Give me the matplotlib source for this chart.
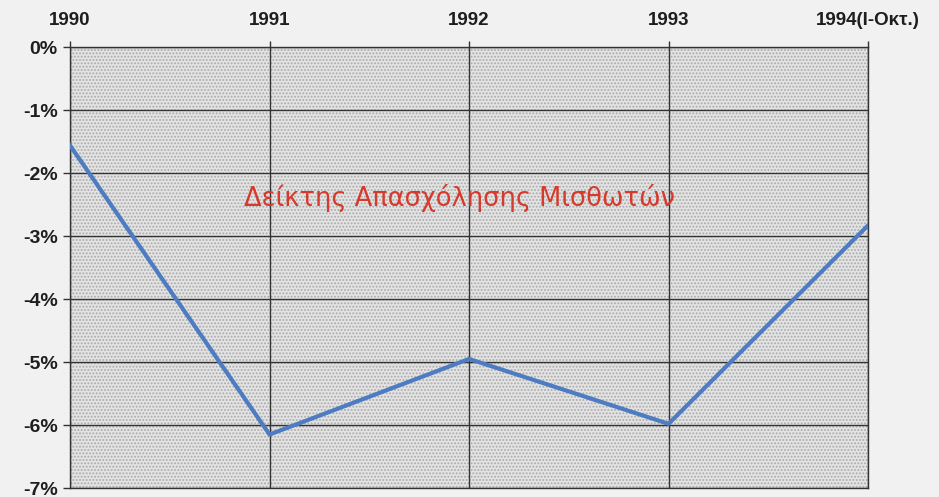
import matplotlib
matplotlib.use("Agg")
import matplotlib.pyplot as plt
from matplotlib.ticker import FuncFormatter
from matplotlib.patches import Rectangle

years = [1990, 1991, 1992, 1993, 1994]
year_labels = ["1990", "1991", "1992", "1993", "1994(I-Οκτ.)"]
values = [-1.56, -6.15, -4.95, -5.98, -2.83]
title = "Δείκτης Απασχόλησης Μισθωτών"

plt.rcParams['font.family'] = ['Liberation Sans', 'DejaVu Sans']
plt.rcParams['hatch.linewidth'] = 0.9

fig = plt.figure(figsize=(9.39, 4.97), dpi=100, facecolor='#f1f1f1')
ax = fig.add_axes([0.0746, 0.018, 0.8498, 0.887])
ax.set_facecolor('#e3e3e3')
bg = Rectangle((0, 0), 1, 1, transform=ax.transAxes, facecolor='#e3e3e3',
               edgecolor='#a9a9a9', hatch='.....', linewidth=0, zorder=0)
ax.add_patch(bg)

ax.plot(years, values, color='#4d7cc2', linewidth=3, zorder=3)

ax.set_xlim(years[0], years[-1])
ax.set_ylim(-7, 0)
ax.set_yticks(range(-7, 1))
ax.yaxis.set_major_formatter(FuncFormatter(lambda v, p: f"{int(round(v))}%"))
ax.set_xticks(years)
ax.set_xticklabels(year_labels)
ax.xaxis.tick_top()
ax.tick_params(axis='x', length=4, width=1, color='#333333', labelsize=13.5, pad=9)
ax.tick_params(axis='y', length=5, width=1, color='#333333', labelsize=14, pad=4)
for lbl in ax.get_xticklabels() + ax.get_yticklabels():
    lbl.set_fontweight('bold')
    lbl.set_color('#1e1e1e')

ax.grid(True, color='#333333', linewidth=1, zorder=1)
ax.set_axisbelow(True)
for s in ax.spines.values():
    s.set_color('#333333')
    s.set_linewidth(1)

ax.text(1991.95, -2.4, title, color='#d63a2c', fontsize=18.5, ha='center', va='center',
        family=['DejaVu Sans'], zorder=4)

fig.savefig('out.png', dpi=100, facecolor=fig.get_facecolor())
